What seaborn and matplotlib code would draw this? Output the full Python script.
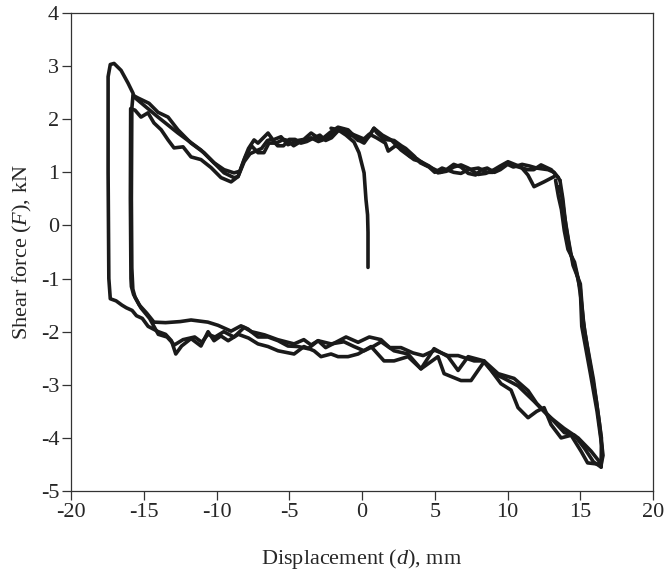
# Hysteresis loops, shear force vs displacement

import numpy as np
import matplotlib.pyplot as plt
import seaborn as sns

sns.set_style('ticks')
plt.rcParams['font.family'] = ['Liberation Serif', 'DejaVu Serif']
plt.rcParams['mathtext.fontset'] = 'custom'
plt.rcParams['mathtext.rm'] = 'Liberation Serif'
plt.rcParams['mathtext.it'] = 'Liberation Serif:italic'
plt.rcParams['axes.unicode_minus'] = False

## first loading (d, F)
initial = [(0.41, -0.79), (0.41, -0.13), (0.38, 0.2), (0.27, 0.49), (0.14, 0.99),
           (-0.21, 1.37), (-0.55, 1.57), (-1.1, 1.70), (-1.65, 1.80), (-2.13, 1.83)]

## cycle 1 (outer left reversal)
cycle1 = [(13.2, 0.92), (12.5, 0.82), (11.82, 0.73), (11.4, 0.95), (10.93, 1.10), (10.03, 1.20),
          (9.5, 1.12), (9.07, 1.05), (8.5, 0.98), (7.97, 0.96), (7.3, 1.08), (6.8, 1.14),
          (6.3, 1.10), (5.8, 1.02), (5.22, 0.99), (4.6, 1.12), (4.05, 1.20), (3.57, 1.24),
          (2.68, 1.42), (2.0, 1.61), (1.4, 1.7), (0.82, 1.83), (0.4, 1.65), (0.14, 1.55),
          (-0.27, 1.61), (-0.96, 1.80), (-1.65, 1.85), (-2.2, 1.75), (-2.82, 1.61), (-3.5, 1.74),
          (-4.0, 1.62), (-4.4, 1.60), (-5.09, 1.52), (-5.57, 1.67), (-6.12, 1.61), (-6.46, 1.74),
          (-7.15, 1.55), (-7.42, 1.61), (-7.8, 1.45), (-8.11, 1.24), (-8.52, 0.92), (-8.8, 0.90),
          (-9.48, 0.99), (-11.07, 1.42), (-12.65, 1.74), (-14.02, 2.04), (-15.67, 2.42),
          (-15.74, 2.49), (-16.08, 2.68), (-16.56, 2.92), (-17.04, 3.05), (-17.3, 3.03),
          (-17.45, 2.8), (-17.45, 1.0), (-17.4, -1.0), (-17.3, -1.38),
          (-16.9, -1.42), (-16.5, -1.5), (-16.2, -1.55), (-15.8, -1.6), (-15.5, -1.70),
          (-15.1, -1.75), (-14.7, -1.90), (-14.0, -2.00), (-13.5, -2.05), (-13.1, -2.17),
          (-12.8, -2.42), (-12.4, -2.27), (-11.75, -2.13), (-11.07, -2.27), (-10.58, -2.00),
          (-10.17, -2.17), (-9.7, -2.08), (-9.2, -2.17), (-8.5, -2.05), (-7.8, -2.12),
          (-7.15, -2.23), (-6.46, -2.28), (-5.77, -2.36), (-4.67, -2.42), (-3.99, -2.28),
          (-3.30, -2.36), (-2.82, -2.47), (-2.13, -2.42), (-1.65, -2.47), (-0.96, -2.47),
          (-0.27, -2.42), (0.62, -2.28), (1.51, -2.55), (2.20, -2.55), (3.16, -2.47),
          (4.05, -2.70), (5.22, -2.47), (5.64, -2.79), (6.80, -2.92), (7.49, -2.92),
          (7.97, -2.73), (8.38, -2.57), (8.87, -2.73), (9.55, -2.98), (10.24, -3.1),
          (10.72, -3.43), (11.41, -3.62), (12.0, -3.5), (12.51, -3.43), (12.99, -3.75),
          (13.68, -4.0), (14.37, -3.95), (15.05, -4.25), (15.5, -4.47), (16.43, -4.5),
          (16.56, -4.33), (16.3, -3.7), (15.9, -2.9), (15.5, -2.3), (15.3, -2.0),
          (15.05, -1.39), (14.85, -1.0), (14.6, -0.69), (14.15, -0.45), (13.9, -0.1),
          (13.7, 0.3), (13.5, 0.54), (13.3, 0.85)]

## cycle 2
cycle2 = [(13.5, 0.9), (13.0, 1.05), (12.3, 1.14), (11.8, 1.05), (11.4, 1.05), (10.5, 1.12),
          (10.0, 1.18), (9.5, 1.1), (9.0, 1.0), (8.6, 1.0), (8.0, 1.08), (7.3, 1.05),
          (6.8, 0.98), (6.3, 1.0), (5.5, 1.08), (5.0, 1.0), (4.6, 1.1), (4.0, 1.18),
          (3.6, 1.3), (3.0, 1.45), (2.7, 1.5), (2.2, 1.6), (1.5, 1.62), (1.0, 1.75),
          (0.82, 1.83), (0.5, 1.68), (0.2, 1.62), (-0.5, 1.7), (-1.2, 1.78), (-1.6, 1.82),
          (-2.1, 1.72), (-2.6, 1.62), (-3.0, 1.58), (-3.5, 1.65), (-3.9, 1.62), (-4.4, 1.55),
          (-4.7, 1.5), (-5.1, 1.6), (-5.4, 1.62), (-5.9, 1.55), (-6.4, 1.55), (-6.74, 1.37),
          (-7.15, 1.37), (-7.6, 1.5), (-8.0, 1.3), (-8.4, 1.02), (-8.8, 0.99), (-9.48, 1.05),
          (-10.17, 1.18), (-10.86, 1.37), (-11.75, 1.55), (-12.65, 1.80), (-13.33, 2.04),
          (-14.02, 2.13), (-14.64, 2.30), (-15.4, 2.40), (-15.74, 2.45), (-15.82, 2.2),
          (-15.85, 0.5), (-15.82, -0.8), (-15.75, -1.2),
          (-15.6, -1.35), (-15.3, -1.5), (-14.8, -1.65), (-14.3, -1.82), (-13.5, -1.83),
          (-12.5, -1.81), (-11.75, -1.78), (-10.6, -1.82), (-9.9, -1.88), (-9.0, -1.99),
          (-8.32, -1.89), (-7.84, -1.95), (-7.15, -2.10), (-6.46, -2.10), (-5.77, -2.17),
          (-5.09, -2.27), (-4.40, -2.28), (-3.71, -2.32), (-3.02, -2.17), (-2.13, -2.23),
          (-1.24, -2.19), (-0.55, -2.28), (0.14, -2.36), (0.82, -2.27), (1.31, -2.19),
          (2.20, -2.36), (3.16, -2.42), (4.05, -2.70), (4.95, -2.32), (5.91, -2.47),
          (6.60, -2.73), (7.29, -2.47), (8.38, -2.55), (9.07, -2.79), (9.76, -2.88),
          (10.72, -3.02), (11.82, -3.31), (12.78, -3.58), (13.88, -3.82), (14.85, -4.0),
          (15.74, -4.25), (16.29, -4.44), (16.43, -4.55),
          (16.5, -4.2), (16.15, -3.5), (15.7, -2.8), (15.1, -1.9), (15.0, -1.2),
          (14.7, -0.85), (14.3, -0.5), (14.0, 0.0), (13.8, 0.5), (13.6, 0.85)]

## cycle 3
cycle3 = [(13.6, 0.85), (13.2, 1.0), (12.78, 1.05), (12.0, 1.08), (11.5, 1.12), (11.0, 1.15),
          (10.4, 1.1), (10.0, 1.15), (9.5, 1.05), (9.1, 1.0), (8.6, 1.08), (8.2, 1.05),
          (7.8, 0.95), (7.3, 0.98), (6.8, 1.1), (6.3, 1.15), (5.8, 1.05), (5.4, 1.0),
          (4.8, 1.08), (4.3, 1.15), (3.8, 1.25), (3.3, 1.3), (2.7, 1.45), (2.3, 1.5),
          (1.8, 1.4), (1.6, 1.55), (1.0, 1.65), (0.5, 1.72), (0.1, 1.62), (-0.27, 1.6),
          (-0.6, 1.68), (-1.0, 1.72), (-1.3, 1.82), (-1.65, 1.78), (-2.1, 1.65), (-2.5, 1.6),
          (-2.9, 1.7), (-3.3, 1.65), (-3.8, 1.58), (-4.2, 1.55), (-4.6, 1.62), (-5.0, 1.62),
          (-5.4, 1.5), (-5.8, 1.5), (-6.2, 1.62), (-6.5, 1.6), (-6.9, 1.45), (-7.3, 1.4),
          (-7.7, 1.35), (-8.1, 1.2), (-8.52, 0.92), (-9.0, 0.82), (-9.69, 0.90), (-10.38, 1.09),
          (-11.07, 1.24), (-11.75, 1.29), (-12.3, 1.48), (-12.92, 1.46), (-13.33, 1.61),
          (-13.8, 1.80), (-14.3, 1.93), (-14.71, 2.12), (-15.19, 2.04), (-15.6, 2.17),
          (-15.9, 2.2), (-15.92, 0.5), (-15.88, -1.0), (-15.85, -1.15),
          (-15.7, -1.3), (-15.2, -1.55), (-14.6, -1.75), (-14.0, -2.05), (-13.4, -2.1),
          (-12.9, -2.25), (-12.3, -2.15), (-11.5, -2.1), (-11.0, -2.2), (-10.6, -2.05),
          (-10.1, -2.1), (-9.5, -2.0), (-8.8, -2.1), (-8.1, -1.92), (-7.6, -2.0),
          (-6.7, -2.06), (-5.8, -2.15), (-5.1, -2.2), (-4.67, -2.23), (-4.0, -2.15),
          (-3.5, -2.25), (-3.02, -2.17), (-2.5, -2.3), (-1.8, -2.2), (-1.1, -2.1),
          (-0.27, -2.2), (0.5, -2.1), (1.3, -2.15), (1.9, -2.3), (2.68, -2.3), (3.5, -2.4),
          (4.2, -2.45), (5.0, -2.35), (5.9, -2.45), (6.6, -2.45), (7.7, -2.55), (8.38, -2.55),
          (9.35, -2.79), (10.45, -2.88), (11.41, -3.11), (12.0, -3.35), (12.9, -3.6),
          (13.9, -3.9), (14.6, -3.95), (15.3, -4.2), (15.9, -4.45), (16.43, -4.55),
          (16.45, -4.0), (16.1, -3.3), (15.6, -2.5), (15.2, -1.8), (15.0, -1.1),
          (14.5, -0.75), (14.2, -0.3), (13.9, 0.2), (13.7, 0.6), (13.47, 0.73)]

x_ticks = [-20, -15, -10, -5, 0, 5, 10, 15, 20]
y_ticks = [-5, -4, -3, -2, -1, 0, 1, 2, 3, 4]

fig = plt.figure(figsize=(6.66, 5.77), dpi=100)
ax = fig.add_axes([0.1066, 0.149, 0.874, 0.8285])

for series in [initial, cycle1, cycle2, cycle3]:
    d = np.array(series)
    sns.lineplot(x=d[:, 0], y=d[:, 1], ax=ax, sort=False, estimator=None,
                 color='#1a1a1a', lw=2.6, solid_joinstyle='round', solid_capstyle='round')

ax.set_xlim(-20, 20)
ax.set_ylim(-5, 4)
ax.set_xticks(x_ticks)
ax.set_yticks(y_ticks)
ax.tick_params(direction='out', length=6.5, width=0.9, labelsize=16, pad=2, color='#333333')
for s in ax.spines.values():
    s.set_linewidth(0.9)
    s.set_color('#333333')

ax.set_xlabel(r'Displacement ($d$), mm', fontsize=16, labelpad=18)
ax.set_ylabel(r'Shear force ($F$), kN', fontsize=16, labelpad=5)

plt.savefig('out.png', dpi=100)
